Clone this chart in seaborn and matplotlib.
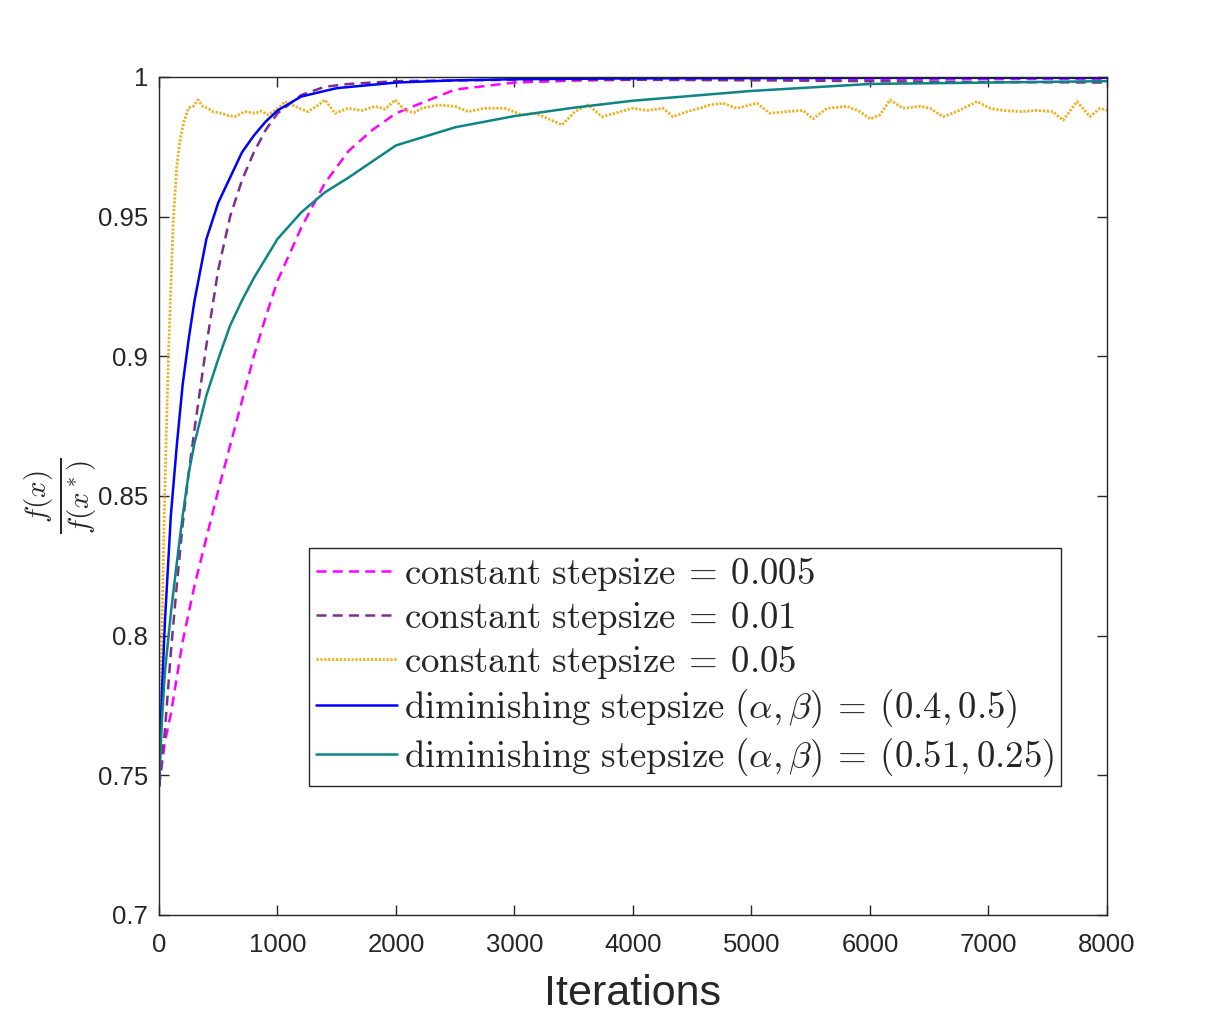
import numpy as np
import pandas as pd
import matplotlib
matplotlib.use('Agg')
import matplotlib.pyplot as plt
import seaborn as sns

# values
it_c005 = [0, 50, 100, 200, 300, 400, 500, 600, 700, 800, 900, 1000, 1200,
           1400, 1600, 1800, 2000, 2500, 3000, 3500, 4000, 5000, 6000, 7000, 8000]
f_c005 = [0.746, 0.762, 0.772, 0.798, 0.818, 0.835, 0.852, 0.868, 0.884, 0.900, 0.914, 0.927, 0.946,
          0.962, 0.9735, 0.981, 0.987, 0.9955, 0.998, 0.9987, 0.999, 0.9992, 0.9993, 0.9993, 0.9993]

it_c01 = [0, 50, 100, 150, 200, 250, 300, 400, 500, 600, 700, 800, 900, 1000,
          1200, 1400, 1600, 2000, 3000, 4000, 5000, 6000, 7000, 8000]
f_c01 = [0.746, 0.766, 0.794, 0.818, 0.840, 0.858, 0.874, 0.904, 0.931, 0.950, 0.963, 0.973, 0.981, 0.987,
         0.9935, 0.9965, 0.9975, 0.9985, 0.999, 0.999, 0.9988, 0.9985, 0.9982, 0.998]

it_c05 = [0, 20, 40, 60, 80, 100, 120, 150, 180, 210,
          250, 290, 330, 370, 413, 460, 529, 580, 641, 726,
          810, 865, 920, 1004, 1063, 1148, 1200, 1257, 1330, 1401,
          1485, 1595, 1713, 1823, 1910, 1992, 2076, 2150, 2219, 2354,
          2498, 2608, 2751, 2920, 3063, 3173, 3342, 3401, 3511, 3620,
          3738, 3848, 3992, 4118, 4253, 4338, 4456, 4565, 4650, 4760,
          4878, 5046, 5156, 5300, 5435, 5519, 5637, 5806, 5916, 6000,
          6084, 6169, 6278, 6422, 6506, 6616, 6734, 6903, 7013, 7122,
          7266, 7409, 7544, 7629, 7747, 7856, 7941, 8000]
f_c05 = [0.746, 0.790, 0.835, 0.870, 0.900, 0.925, 0.948, 0.968, 0.978, 0.984,
         0.989, 0.9895, 0.9918, 0.9895, 0.9888, 0.9875, 0.987, 0.9862, 0.9858, 0.9876,
         0.987, 0.9878, 0.9864, 0.9888, 0.9912, 0.9895, 0.9885, 0.9876, 0.9895, 0.9918,
         0.987, 0.9888, 0.988, 0.9895, 0.9885, 0.9918, 0.988, 0.9872, 0.9888, 0.990,
         0.9895, 0.9876, 0.9888, 0.9888, 0.9864, 0.987, 0.984, 0.9828, 0.9876, 0.990,
         0.9858, 0.987, 0.9888, 0.988, 0.9888, 0.9858, 0.9876, 0.9888, 0.990, 0.9906,
         0.9888, 0.9906, 0.987, 0.9876, 0.988, 0.985, 0.9888, 0.9895, 0.9876, 0.985,
         0.9864, 0.9918, 0.9888, 0.9895, 0.9888, 0.9858, 0.9876, 0.9912, 0.9888, 0.988,
         0.9876, 0.988, 0.9876, 0.9845, 0.9912, 0.9858, 0.9888, 0.988]

it_d1 = [0, 25, 50, 100, 150, 200, 250, 300, 400, 500, 600, 700, 800, 900,
         1000, 1200, 1500, 2000, 2500, 3000, 4000, 5000, 6000, 7000, 8000]
f_d1 = [0.746, 0.78, 0.805, 0.843, 0.868, 0.890, 0.906, 0.920, 0.942, 0.955, 0.964, 0.973, 0.979, 0.984,
        0.988, 0.993, 0.996, 0.998, 0.9988, 0.9992, 0.9995, 0.9996, 0.9997, 0.9997, 0.9997]

it_d2 = [0, 25, 50, 100, 150, 200, 250, 300, 400, 500, 600, 700, 800, 900,
         1000, 1200, 1400, 1600, 2000, 2500, 3000, 3500, 4000, 5000, 6000, 7000, 8000]
f_d2 = [0.746, 0.77, 0.787, 0.808, 0.826, 0.843, 0.858, 0.869, 0.886, 0.899, 0.911, 0.920, 0.928, 0.935,
        0.942, 0.9515, 0.9587, 0.964, 0.9755, 0.982, 0.986, 0.989, 0.9915, 0.995, 0.9975, 0.998, 0.9985]

labels = [r'$\mathrm{constant\ stepsize}\:=\:0.005$',
          r'$\mathrm{constant\ stepsize}\:=\:0.01$',
          r'$\mathrm{constant\ stepsize}\:=\:0.05$',
          r'$\mathrm{diminishing\ stepsize}\ (\alpha, \beta)\:=\:(0.4, 0.5)$',
          r'$\mathrm{diminishing\ stepsize}\ (\alpha, \beta)\:=\:(0.51, 0.25)$']
colors = ['#FF00FF', '#7E2F8E', '#EDB120', '#0000FF', '#0E8585']
styles = [(0, (4, 2.5)), (0, (4, 2.5)), (0, (0.8, 0.6)), '-', '-']

xticks = [0, 1000, 2000, 3000, 4000, 5000, 6000, 7000, 8000]
yticks = [0.7, 0.75, 0.8, 0.85, 0.9, 0.95, 1.0]
ytick_labels = ['0.7', '0.75', '0.8', '0.85', '0.9', '0.95', '1']

sns.set_style('ticks')
plt.rcParams['font.family'] = ['Liberation Sans', 'DejaVu Sans']
plt.rcParams['mathtext.fontset'] = 'cm'

fig = plt.figure(figsize=(12.24, 10.29), dpi=100)
ax = fig.add_axes([0.1299, 0.1108, 0.7745, 0.8144])

series = [(it_c005, f_c005), (it_c01, f_c01), (it_c05, f_c05), (it_d1, f_d1), (it_d2, f_d2)]
for (xs, ys), lab, col, ls in zip(series, labels, colors, styles):
    sns.lineplot(x=xs, y=ys, ax=ax, color=col, linestyle=ls,
                 linewidth=2.0 if col == '#EDB120' else 1.8, label=lab)

ax.set_xlim(0, 8000)
ax.set_ylim(0.7, 1.0)
ax.set_xticks(xticks)
ax.set_xticklabels([str(t) for t in xticks])
ax.set_yticks(yticks)
ax.set_yticklabels(ytick_labels)
ax.tick_params(direction='in', length=7, width=1, top=True, right=True,
               labelsize=18.5, labelcolor='#262626', color='#262626', pad=8)
ax.tick_params(axis='x', pad=13)
for sp in ax.spines.values():
    sp.set_visible(True)
    sp.set_color('#262626')
    sp.set_linewidth(1)

ax.set_xlabel('Iterations', fontsize=31, color='#262626', labelpad=12)
ax.set_ylabel(r'$\frac{f(x)}{f(x^*)}$', fontsize=30, color='#262626', labelpad=0)

leg = ax.legend(loc='upper left', bbox_to_anchor=(0.158, 0.438), fontsize=26.5,
                frameon=True, fancybox=False, edgecolor='#262626', framealpha=1,
                handlelength=2.2, handletextpad=0.18, labelspacing=0.17,
                borderpad=0.2, borderaxespad=0)
leg.get_frame().set_linewidth(1)

fig.savefig('out.png', dpi=100)
